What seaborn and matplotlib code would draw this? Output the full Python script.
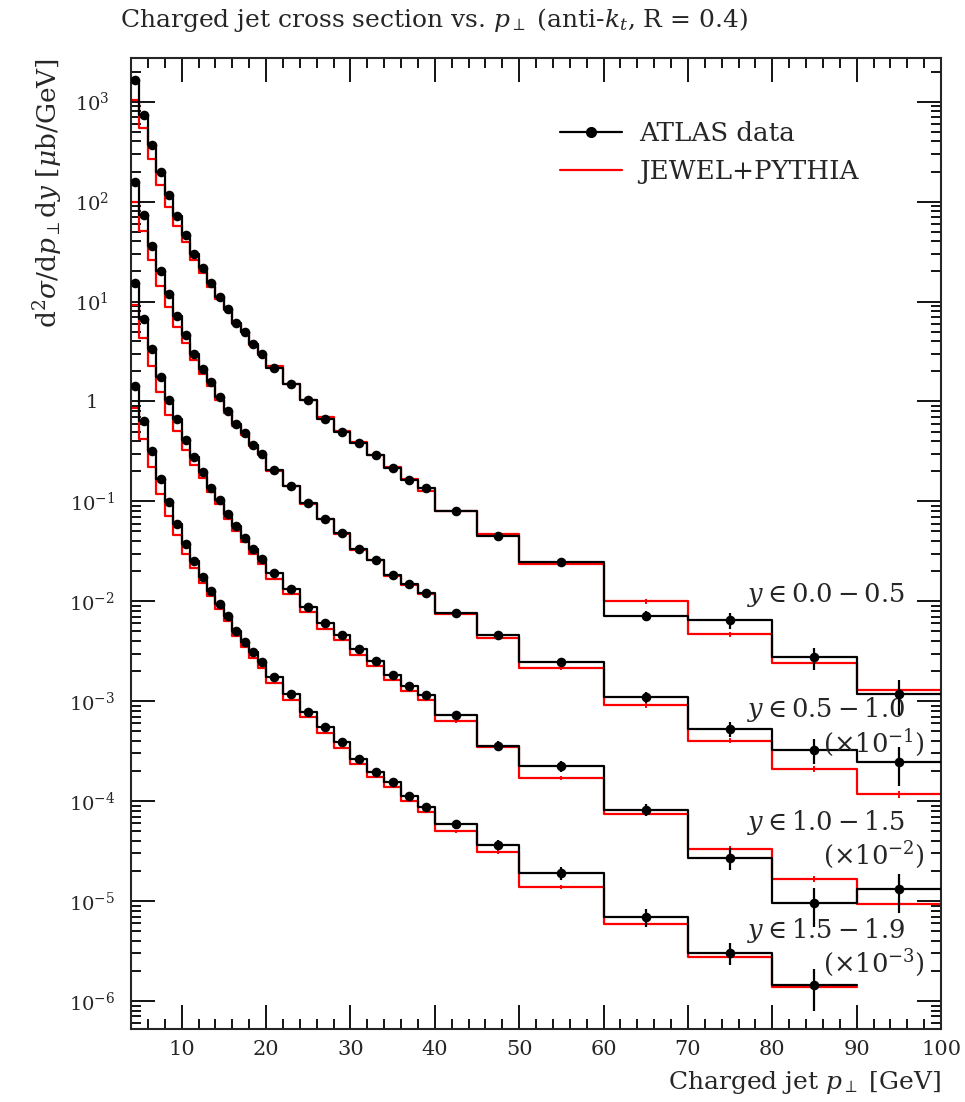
import numpy as np
import pandas as pd
import matplotlib
matplotlib.use("Agg")
import matplotlib.pyplot as plt
from matplotlib.lines import Line2D
from matplotlib.ticker import FixedLocator, FuncFormatter, MultipleLocator, NullFormatter
import seaborn as sns

# ---- binning in charged-jet pT [GeV] ----
pt_edges = [4, 5, 6, 7, 8, 9, 10, 11, 12, 13, 14, 15, 16, 17, 18, 19, 20,
            22, 24, 26, 28, 30, 32, 34, 36, 38, 40, 45, 50, 60, 70, 80, 90, 100]

# ---- ATLAS data, d2sigma/dpT dy [mub/GeV] (scaled per rapidity slice) ----
atlas_y00_05 = [1650, 740, 365, 198, 116, 72, 46, 30, 21.5, 15.2, 11.2, 8.4,
                6.1, 4.9, 3.8, 2.97, 2.17, 1.50, 1.04, 0.675, 0.49, 0.38,
                0.288, 0.214, 0.162, 0.135, 0.081, 0.045, 0.0245, 0.0072,
                0.0065, 0.00275, 0.00118]
atlas_y05_10 = [158, 73, 36, 20, 11.8, 7.2, 4.65, 3.0, 2.1, 1.55, 1.1, 0.81,
                0.59, 0.48, 0.37, 0.297, 0.206, 0.142, 0.096, 0.067, 0.048,
                0.033, 0.0262, 0.0183, 0.0148, 0.0122, 0.0076, 0.0046,
                0.00245, 0.0011, 0.00053, 0.000326, 0.000245]
atlas_y10_15 = [15.5, 6.7, 3.35, 1.75, 1.03, 0.67, 0.41, 0.275, 0.195, 0.137,
                0.104, 0.074, 0.0565, 0.0435, 0.033, 0.0265, 0.019, 0.0134,
                0.0088, 0.006, 0.0046, 0.0033, 0.00254, 0.00185, 0.00143,
                0.00116, 0.00072, 0.00036, 0.000224, 8.2e-5, 2.7e-5, 9.5e-6,
                1.32e-5]
atlas_y15_19 = [1.43, 0.64, 0.32, 0.167, 0.098, 0.06, 0.0374, 0.0255, 0.0175,
                0.0127, 0.0093, 0.0071, 0.0051, 0.0039, 0.0031, 0.00245,
                0.00173, 0.00118, 0.00078, 0.00055, 0.00039, 0.000266,
                0.000196, 0.000156, 0.000112, 8.7e-5, 5.9e-5, 3.65e-5, 1.9e-5,
                6.9e-6, 3.05e-6, 1.44e-6, np.nan]

# relative uncertainties of the data points
atlas_err_y00_05 = [0.04, 0.04, 0.04, 0.04, 0.04, 0.04, 0.04, 0.04, 0.04, 0.04,
                    0.04, 0.04, 0.04, 0.04, 0.04, 0.04, 0.04, 0.04, 0.04, 0.05,
                    0.05, 0.05, 0.05, 0.06, 0.06, 0.06, 0.05, 0.07, 0.08, 0.12,
                    0.18, 0.25, 0.38]
atlas_err_y05_10 = [0.04, 0.04, 0.04, 0.04, 0.04, 0.04, 0.04, 0.04, 0.04, 0.04,
                    0.04, 0.04, 0.04, 0.04, 0.04, 0.04, 0.04, 0.04, 0.05, 0.05,
                    0.05, 0.05, 0.06, 0.06, 0.06, 0.06, 0.06, 0.08, 0.10, 0.12,
                    0.18, 0.28, 0.42]
atlas_err_y10_15 = [0.04, 0.04, 0.04, 0.04, 0.04, 0.04, 0.04, 0.04, 0.04, 0.04,
                    0.04, 0.04, 0.04, 0.04, 0.04, 0.04, 0.04, 0.05, 0.05, 0.05,
                    0.05, 0.06, 0.06, 0.06, 0.07, 0.07, 0.08, 0.10, 0.12, 0.14,
                    0.25, 0.42, 0.42]
atlas_err_y15_19 = [0.04, 0.04, 0.04, 0.04, 0.04, 0.04, 0.04, 0.04, 0.04, 0.04,
                    0.04, 0.04, 0.04, 0.04, 0.04, 0.05, 0.05, 0.05, 0.05, 0.06,
                    0.06, 0.06, 0.07, 0.07, 0.08, 0.08, 0.10, 0.12, 0.15, 0.20,
                    0.25, 0.45, np.nan]

# ---- JEWEL+PYTHIA prediction ----
jewel_y00_05 = [1040, 540, 268, 145, 88, 57, 39, 26, 19.5, 14, 10.5, 8.2, 5.9,
                4.9, 3.7, 2.95, 2.25, 1.50, 1.03, 0.70, 0.51, 0.39, 0.29,
                0.222, 0.168, 0.128, 0.080, 0.0475, 0.0235, 0.0100, 0.0047,
                0.0024, 0.0013]
jewel_y05_10 = [98, 51, 26, 14.4, 8.9, 5.6, 3.85, 2.58, 1.89, 1.43, 1.03, 0.77,
                0.57, 0.465, 0.36, 0.288, 0.203, 0.141, 0.094, 0.066, 0.0475,
                0.0327, 0.0258, 0.018, 0.0146, 0.0119, 0.0075, 0.0043,
                0.00214, 0.00091, 0.000404, 0.00021, 0.000118]
jewel_y10_15 = [9.3, 4.35, 2.28, 1.23, 0.74, 0.51, 0.33, 0.231, 0.17, 0.123,
                0.094, 0.067, 0.051, 0.039, 0.0298, 0.0238, 0.0168, 0.0118,
                0.0078, 0.0053, 0.0041, 0.0029, 0.00225, 0.00163, 0.00126,
                0.00102, 0.00063, 0.00035, 0.000171, 7.5e-5, 3.33e-5, 1.67e-5,
                9.4e-6]
jewel_y15_19 = [0.86, 0.42, 0.22, 0.118, 0.071, 0.046, 0.030, 0.0215, 0.0152,
                0.0113, 0.0083, 0.0063, 0.0045, 0.0035, 0.0027, 0.00216,
                0.00152, 0.00104, 0.00069, 0.00048, 0.00034, 0.000236,
                0.000174, 0.000138, 0.0001, 7.8e-5, 5.0e-5, 3.1e-5, 1.38e-5,
                5.85e-6, 2.75e-6, 1.38e-6, np.nan]

# relative statistical uncertainty of the prediction in the bins above 40 GeV
jewel_err_y00_05 = [0.02, 0.03, 0.04, 0.05, 0.06, 0.06, 0.07]
jewel_err_y05_10 = [0.02, 0.03, 0.04, 0.05, 0.06, 0.07, 0.08]
jewel_err_y10_15 = [0.03, 0.03, 0.04, 0.05, 0.06, 0.07, 0.08]
jewel_err_y15_19 = [0.03, 0.04, 0.05, 0.06, 0.06, 0.08, np.nan]

slice_labels = [r"$y \in 0.0 - 0.5$", r"$y \in 0.5 - 1.0$",
                r"$y \in 1.0 - 1.5$", r"$y \in 1.5 - 1.9$"]
scale_labels = ["", r"$(\times 10^{-1})$", r"$(\times 10^{-2})$", r"$(\times 10^{-3})$"]

# ---- style ----
sns.set_style("ticks")
plt.rcParams["font.family"] = ["DejaVu Serif"]
plt.rcParams["mathtext.fontset"] = "dejavuserif"
plt.rcParams["axes.linewidth"] = 1.5

fig = plt.figure(figsize=(9.65, 11.02), dpi=100)
ax = fig.add_axes([131 / 965, 1 - 1029 / 1102, 810 / 965, 971 / 1102])

edges = np.array(pt_edges, dtype=float)
centres = 0.5 * (edges[:-1] + edges[1:])
n_low = len(centres) - len(jewel_err_y00_05)

series = [
    (atlas_y00_05, atlas_err_y00_05, jewel_y00_05, jewel_err_y00_05),
    (atlas_y05_10, atlas_err_y05_10, jewel_y05_10, jewel_err_y05_10),
    (atlas_y10_15, atlas_err_y10_15, jewel_y10_15, jewel_err_y10_15),
    (atlas_y15_19, atlas_err_y15_19, jewel_y15_19, jewel_err_y15_19),
]

for data, derr, model, merr in series:
    df = pd.DataFrame({"pt": centres, "data": data, "err": derr, "model": model})
    df["merr"] = [np.nan] * n_low + list(merr)
    df = df.dropna(subset=["data", "model"])
    used_edges = list(pt_edges[: len(df) + 1])
    sns.histplot(x=df["pt"], weights=df["model"], bins=used_edges, element="step",
                 fill=False, color="#ff0000", linewidth=1.6, ax=ax, zorder=2)
    hi = df.dropna(subset=["merr"])
    ax.errorbar(hi["pt"], hi["model"], yerr=hi["model"] * hi["merr"], fmt="none",
                ecolor="#ff0000", elinewidth=1.4, capsize=0, zorder=2)
    sns.histplot(x=df["pt"], weights=df["data"], bins=used_edges, element="step",
                 fill=False, color="black", linewidth=1.6, ax=ax, zorder=3)
    ax.errorbar(df["pt"], df["data"], yerr=df["data"] * df["err"], fmt="none",
                ecolor="black", elinewidth=1.6, capsize=0, zorder=4)
    sns.scatterplot(x=df["pt"], y=df["data"], color="black", s=48, edgecolor="black",
                    linewidth=0, ax=ax, zorder=5)

ax.set_yscale("log")
ax.set_xlim(4, 100)
ax.set_ylim(10 ** -6.28, 10 ** 3.437)

# ticks: inward on all four sides
ax.xaxis.set_major_locator(MultipleLocator(10))
ax.xaxis.set_minor_locator(MultipleLocator(2))
ax.yaxis.set_major_locator(FixedLocator([10.0 ** e for e in range(-6, 4)]))
ax.yaxis.set_minor_locator(FixedLocator([m * 10.0 ** e for e in range(-7, 4) for m in range(2, 10)]))
ax.yaxis.set_minor_formatter(NullFormatter())


def decade_label(v, pos):
    e = int(round(np.log10(v)))
    return "1" if e == 0 else rf"$10^{{{e}}}$"


ax.yaxis.set_major_formatter(FuncFormatter(decade_label))
ax.tick_params(which="both", direction="in", top=True, right=True, width=1.3,
               color="black")
ax.tick_params(axis="x", which="major", length=17.5, pad=8, labelsize=15)
ax.tick_params(axis="y", which="major", length=17.5, pad=28, labelsize=14)
ax.tick_params(which="minor", length=7.5)
for tick in ax.yaxis.get_major_ticks():
    tick.label1.set_horizontalalignment("center")

ax.set_xlabel(r"Charged jet $p_\perp$ [GeV]", fontsize=18, loc="right", labelpad=7)
ax.set_ylabel(r"$\mathrm{d}^2\sigma/\mathrm{d}p_\perp\mathrm{d}y$ [$\mu$b/GeV]",
              fontsize=19, loc="top")
ax.yaxis.set_label_coords(-0.082, 1.0)

fig.text(120 / 965, 1 - 20 / 1102,
         r"Charged jet cross section vs. $p_\perp$ (anti-$k_t$, R = 0.4)",
         fontsize=18, ha="left", va="center")

# rapidity-slice annotations
slice_pos = [0.4470, 0.3290, 0.2126, 0.1014]
scale_pos = [None, 0.2950, 0.1787, 0.0674]
for lab, sc, yp, ys in zip(slice_labels, scale_labels, slice_pos, scale_pos):
    ax.text(0.9556, yp, lab, transform=ax.transAxes, ha="right", va="center",
            fontsize=18.5)
    if sc:
        ax.text(0.980, ys, sc, transform=ax.transAxes, ha="right",
                va="center", fontsize=18.5)

handles = [
    Line2D([], [], color="black", lw=1.6, marker="o", markersize=7),
    Line2D([], [], color="#ff0000", lw=1.6),
]
ax.legend(handles, ["ATLAS data", "JEWEL+PYTHIA"], loc="upper left",
          bbox_to_anchor=(0.50, 0.959), frameon=False, fontsize=18.8,
          handlelength=2.4, handletextpad=0.65, labelspacing=0.5)

fig.savefig("out.png", dpi=100)
